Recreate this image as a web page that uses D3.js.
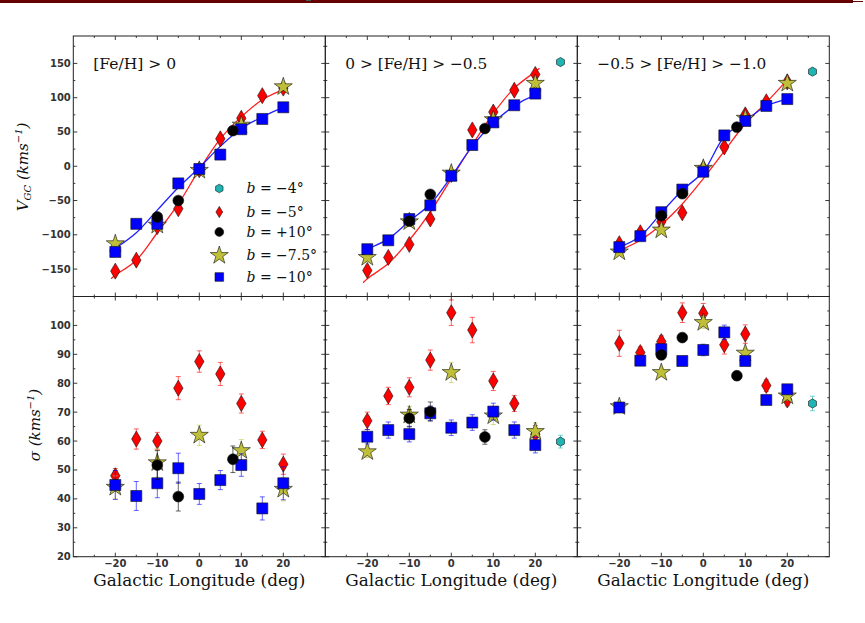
<!DOCTYPE html>
<html><head><meta charset="utf-8">
<script src="https://cdn.jsdelivr.net/npm/d3@7"></script>
<style>body{margin:0;background:#fff}svg{display:block}</style>
</head><body>
<svg id="c" width="865" height="623"></svg>
<script>
// ---------------- data ----------------
const lonFull  = [-20,-15,-10,-5,0,5,10,15,20];
const lonStar  = [-20,-10,0,10,20];
const lonBlack = [-10,-5,8];
const lonCyan  = [26];
const lonFit   = [-21,-20,-15,-10,-5,0,5,10,15,20,21];
const lonFit3  = [-20,-15,-10,-5,0,5,10,15,20];

const panelTitles = ["[Fe/H] > 0", "0 > [Fe/H] > \u22120.5", "\u22120.5 > [Fe/H] > \u22121.0"];
const legendLabels = ["\u22124\u00b0", "\u22125\u00b0", "+10\u00b0", "\u22127.5\u00b0", "\u221210\u00b0"];

const xTicks = [-20,-10,0,10,20];
const xMinor = [-25,-15,-5,5,15,25];
const vTicks = [-150,-100,-50,0,50,100,150];
const vMinor = [-175,-125,-75,-25,25,75,125,175];
const sTicks = [20,30,40,50,60,70,80,90,100];
const sMinor = [25,35,45,55,65,75,85,95,105];

// V_GC (top row)
const vRed1   = [-153,-137,-88,-62,-5,40,70,103,114];
const vBlue1  = [-125,-84,-84,-25,-4,17,54,69,86];
const vBlack1 = [-74,-50,52];
const vStar1  = [-113,-86,-6,60,116];
const vCyan1  = [];
const fitRed1  = [-164,-159,-137,-97,-55,-5,40,72,97,112,115];
const fitBlue1 = [-124,-120,-97,-64,-31,-2,29,55,72,86,88];

const vRed2   = [-152,-133,-114,-77,-12,53,79,111,134];
const vBlue2  = [-121,-108,-77,-57,-14,31,64,89,106];
const vBlack2 = [-80,-41,55];
const vStar2  = [-133,-81,-10,68,121];
const vCyan2  = [152];
const fitRed2  = [-170,-164,-142,-108,-67,-18,31,77,114,138,143];
const fitBlue2 = [-124,-121,-106,-80,-55,-15,29,63,88,104,106];

const vRed3   = [-113,-97,-81,-68,-3,28,75,94,123];
const vBlue3  = [-118,-102,-67,-34,-8,45,66,88,98];
const vBlack3 = [-72,-40,57];
const vStar3  = [-125,-93,-3,70,121];
const vCyan3  = [138];
const fitRed3  = [-123,-108,-85,-55,-18,22,62,93,126];
const fitBlue3 = [-118,-102,-68,-35,-8,43,66,88,98];

// sigma (bottom row) values and errors
const sRed1 = [48,60.7,60,78.3,87.5,83.2,73,60.4,52],      eRed1 = [2.5,3.5,3,4,3.7,4,3.3,3,3.5];
const sBlue1 = [44.8,41,45.4,50.6,41.7,46.5,51.7,36.7,45.4], eBlue1 = [5,5,5,5.2,3.6,3.3,3.9,4,5.7];
const sBlack1 = [51.7,40.8,53.7], eBlack1 = [5,5,4.6];
const sStar1 = [44,52.5,62,56.7,43.3], eStar1 = [4,5,3.5,3.8,4];
const sCyan1 = [], eCyan1 = [];

const sRed2 = [67,75.6,78.6,88,104.4,98.4,80.8,73,62.4],     eRed2 = [3,3,3.3,3.5,4.4,4.4,3.3,2.8,3];
const sBlue2 = [61.5,63.8,62.4,69.6,64.6,66.4,70.2,63.8,58.6], eBlue2 = [2.5,2.8,2.7,2.5,2.7,2.7,2.9,2.8,2.7];
const sBlack2 = [67.9,70.2,61.4], eBlack2 = [3,3.3,2.5];
const sStar2 = [56.3,69,83.7,68.7,63.3], eStar2 = [2,3,3.5,3,3];
const sCyan2 = [59.8], eCyan2 = [2.2];

const sRed3 = [93.8,90.6,94.4,104.4,104.2,93.3,97,79.2,74.2], eRed3 = [4.5,2,2,3.4,3.4,3.2,3.2,2,2];
const sBlue3 = [71.6,87.8,91.8,87.7,91.5,97.6,87.7,74.2,77.9], eBlue3 = [1.5,1.5,1.5,1.5,2,2.5,1.5,1.5,1.5];
const sBlack3 = [89.8,95.8,82.6], eBlack3 = [1.5,1.5,1.5];
const sStar3 = [71.9,83.7,101,90.4,75.6], eStar3 = [1.5,1.5,2,1.5,1.5];
const sCyan3 = [73], eCyan3 = [2.5];

// ---------------- drawing ----------------
const svg = d3.select("#c");
const SERIF = "'DejaVu Serif', serif";
const SANS = "'DejaVu Sans', sans-serif";
const col = {red:"#ff0000", blue:"#0000ff", black:"#000000", star:"#bfbf3a", cyan:"#1fb5b5"};

svg.append("rect").attr("x",0).attr("y",0).attr("width",853).attr("height",3).attr("fill","#660000");
svg.append("rect").attr("x",853).attr("y",1).attr("width",10).attr("height",1).attr("fill","#660000");

const panelLefts = [73.3, 325.3, 577.3], PW = 252;
const yTop0 = 36, yMid = 296.5, yBot = 556.7;

function starPath(R){const p=[];for(let i=0;i<10;i++){const a=-Math.PI/2+i*Math.PI/5;const r=i%2?R*0.382:R;p.push([r*Math.cos(a),r*Math.sin(a)]);}return "M"+p.map(d=>d[0].toFixed(2)+","+d[1].toFixed(2)).join("L")+"Z";}
function hexPath(R){const p=[];for(let i=0;i<6;i++){const a=-Math.PI/2+i*Math.PI/3;p.push([R*Math.cos(a),R*Math.sin(a)]);}return "M"+p.map(d=>d[0].toFixed(2)+","+d[1].toFixed(2)).join("L")+"Z";}
function diamondPath(w,h){return `M0,${-h}L${w},0L0,${h}L${-w},0Z`;}
function squarePath(s){return `M${-s},${-s}L${s},${-s}L${s},${s}L${-s},${s}Z`;}
function circlePath(r){return `M${r},0A${r},${r} 0 1,1 ${-r},0A${r},${r} 0 1,1 ${r},0Z`;}

const mk = {
  red:   diamondPath(4.7,8),
  blue:  squarePath(5.5),
  black: circlePath(5.4),
  star:  starPath(9.5),
  cyan:  hexPath(4.6)
};
const mkLeg = {
  red:   diamondPath(3.4,5.6),
  blue:  squarePath(4.3),
  black: circlePath(4.4),
  star:  starPath(9.5),
  cyan:  hexPath(4.3)
};

function frameAndTicks(g, x, y, yMaj, yMin, showX, showY){
  const [x0,x1] = x.range(), [y1,y0] = y.range();
  const tk = g.append("g").attr("stroke","#222").attr("stroke-width",0.9);
  xTicks.forEach(v=>{const px=x(v);
    tk.append("line").attr("x1",px).attr("x2",px).attr("y1",y0).attr("y2",y0+4);
    tk.append("line").attr("x1",px).attr("x2",px).attr("y1",y1).attr("y2",y1-4);});
  xMinor.forEach(v=>{const px=x(v);
    tk.append("line").attr("x1",px).attr("x2",px).attr("y1",y0).attr("y2",y0+2);
    tk.append("line").attr("x1",px).attr("x2",px).attr("y1",y1).attr("y2",y1-2);});
  yMaj.forEach(v=>{const py=y(v); if(py<y0-0.5||py>y1+0.5) return;
    tk.append("line").attr("x1",x0).attr("x2",x0+4).attr("y1",py).attr("y2",py);
    tk.append("line").attr("x1",x1).attr("x2",x1-4).attr("y1",py).attr("y2",py);});
  yMin.forEach(v=>{const py=y(v); if(py<y0||py>y1) return;
    tk.append("line").attr("x1",x0).attr("x2",x0+2).attr("y1",py).attr("y2",py);
    tk.append("line").attr("x1",x1).attr("x2",x1-2).attr("y1",py).attr("y2",py);});
  g.append("rect").attr("x",x0).attr("y",y0).attr("width",x1-x0).attr("height",y1-y0)
    .attr("fill","none").attr("stroke","#222").attr("stroke-width",1);
  const fmt = v => (v<0?"\u2212":"")+Math.abs(v);
  if(showY){
    yMaj.forEach(v=>{const py=y(v); if(py<y0-0.5) return;
      g.append("text").attr("x",x0-2.5).attr("y",py).attr("dy","0.35em").attr("text-anchor","end")
       .attr("font-family",SANS).attr("font-size",10).attr("font-weight","bold").attr("fill","#333").text(fmt(v));});
  }
  if(showX){
    xTicks.forEach(v=>{
      g.append("text").attr("x",x(v)).attr("y",y1+7).attr("dy","0.35em").attr("text-anchor","middle")
       .attr("font-family",SANS).attr("font-size",10).attr("font-weight","bold").attr("fill","#333").text(fmt(v));});
  }
}

function drawSeries(g, x, y, lons, vals, errs, key){
  if(errs){
    const eg = g.append("g").attr("stroke",col[key]).attr("stroke-opacity",0.6).attr("stroke-width",1);
    lons.forEach((l,i)=>{
      const px=x(l), ya=y(vals[i]-errs[i]), yb=y(vals[i]+errs[i]);
      eg.append("line").attr("x1",px).attr("x2",px).attr("y1",ya).attr("y2",yb);
      eg.append("line").attr("x1",px-2.5).attr("x2",px+2.5).attr("y1",ya).attr("y2",ya);
      eg.append("line").attr("x1",px-2.5).attr("x2",px+2.5).attr("y1",yb).attr("y2",yb);
    });
  }
  g.selectAll(null).data(vals).enter().append("path")
    .attr("d",mk[key]).attr("transform",(d,i)=>`translate(${x(lons[i])},${y(d)})`)
    .attr("fill",col[key]).attr("stroke","#111").attr("stroke-width",0.6);
}

const topData = [
  {red:vRed1,blue:vBlue1,black:vBlack1,star:vStar1,cyan:vCyan1,fr:fitRed1,fb:fitBlue1,fl:lonFit},
  {red:vRed2,blue:vBlue2,black:vBlack2,star:vStar2,cyan:vCyan2,fr:fitRed2,fb:fitBlue2,fl:lonFit},
  {red:vRed3,blue:vBlue3,black:vBlack3,star:vStar3,cyan:vCyan3,fr:fitRed3,fb:fitBlue3,fl:lonFit3}
];
const botData = [
  {red:[sRed1,eRed1],blue:[sBlue1,eBlue1],black:[sBlack1,eBlack1],star:[sStar1,eStar1],cyan:[sCyan1,eCyan1]},
  {red:[sRed2,eRed2],blue:[sBlue2,eBlue2],black:[sBlack2,eBlack2],star:[sStar2,eStar2],cyan:[sCyan2,eCyan2]},
  {red:[sRed3,eRed3],blue:[sBlue3,eBlue3],black:[sBlack3,eBlack3],star:[sStar3,eStar3],cyan:[sCyan3,eCyan3]}
];
const lonOf = {red:lonFull, blue:lonFull, black:lonBlack, star:lonStar, cyan:lonCyan};
const order = ["red","star","blue","black","cyan"];

panelLefts.forEach((left, p)=>{
  const x = d3.scaleLinear().domain([-30,30]).range([left, left+PW]);
  // top
  const yT = d3.scaleLinear().domain([-190,190]).range([yMid, yTop0]);
  const gT = svg.append("g");
  const D = topData[p];
  const line = d3.line().x((d,i)=>x(D.fl[i])).y(d=>yT(d)).curve(d3.curveCatmullRom.alpha(0.5));
  gT.append("path").attr("d",line(D.fr)).attr("fill","none").attr("stroke","#ff2020").attr("stroke-width",1.3);
  gT.append("path").attr("d",line(D.fb)).attr("fill","none").attr("stroke","#2020ff").attr("stroke-width",1.3);
  order.forEach(k=>drawSeries(gT, x, yT, lonOf[k], D[k], null, k));
  frameAndTicks(gT, x, yT, vTicks, vMinor, false, p===0);
  gT.append("text").attr("x",left+20).attr("y",69).attr("font-family",SERIF).attr("font-size",15)
    .attr("fill","#111").attr("class","ttl").attr("data-w",[83,142,169][p]).text(panelTitles[p]);

  // bottom
  const yB = d3.scaleLinear().domain([20,110]).range([yBot, yMid]);
  const gB = svg.append("g");
  const B = botData[p];
  order.forEach(k=>drawSeries(gB, x, yB, lonOf[k], B[k][0], B[k][1], k));
  frameAndTicks(gB, x, yB, sTicks, sMinor, true, p===0);
  gB.append("text").attr("x",left+PW/2).attr("y",586).attr("text-anchor","middle")
    .attr("font-family",SERIF).attr("font-size",18).attr("fill","#111").attr("class","xl").text("Galactic Longitude (deg)");
});

// fit text widths
svg.selectAll("text.ttl").each(function(){
  const t=d3.select(this), w=+t.attr("data-w"), cur=this.getComputedTextLength();
  t.attr("font-size", 15*w/cur);
});
svg.selectAll("text.xl").each(function(){
  const t=d3.select(this), cur=this.getComputedTextLength();
  t.attr("font-size", 18*212/cur);
});

// legend
const legY = [188.5, 212, 232, 255.5, 277];
const legKeys = ["cyan","red","black","star","blue"];
const lg = svg.append("g");
legKeys.forEach((k,i)=>{
  lg.append("path").attr("d",mkLeg[k]).attr("transform",`translate(219.3,${legY[i]})`)
    .attr("fill",col[k]).attr("stroke","#111").attr("stroke-width",0.6);
  const t = lg.append("text").attr("x",246.5).attr("y",legY[i]).attr("dy","0.35em")
    .attr("font-family",SERIF).attr("font-size",14).attr("fill","#111");
  t.append("tspan").attr("font-style","italic").text("b");
  t.append("tspan").text(" = "+legendLabels[i]);
});

// y labels
const yl1 = svg.append("text").attr("transform","translate(28,167) rotate(-90)").attr("text-anchor","middle")
  .attr("font-family",SERIF).attr("font-size",15).attr("font-style","italic").attr("fill","#111");
yl1.append("tspan").text("V");
yl1.append("tspan").attr("font-size",10).attr("dy",3).text("GC");
yl1.append("tspan").attr("dy",-3).text(" (kms");
yl1.append("tspan").attr("font-size",10).attr("dy",-6).text("\u22121");
yl1.append("tspan").attr("dy",6).text(")");

const yl2 = svg.append("text").attr("transform","translate(40,425) rotate(-90)").attr("text-anchor","middle")
  .attr("font-family",SERIF).attr("font-size",15).attr("font-style","italic").attr("fill","#111");
yl2.append("tspan").text("\u03c3 (kms");
yl2.append("tspan").attr("font-size",10).attr("dy",-6).text("\u22121");
yl2.append("tspan").attr("dy",6).text(")");
</script>
</body></html>
